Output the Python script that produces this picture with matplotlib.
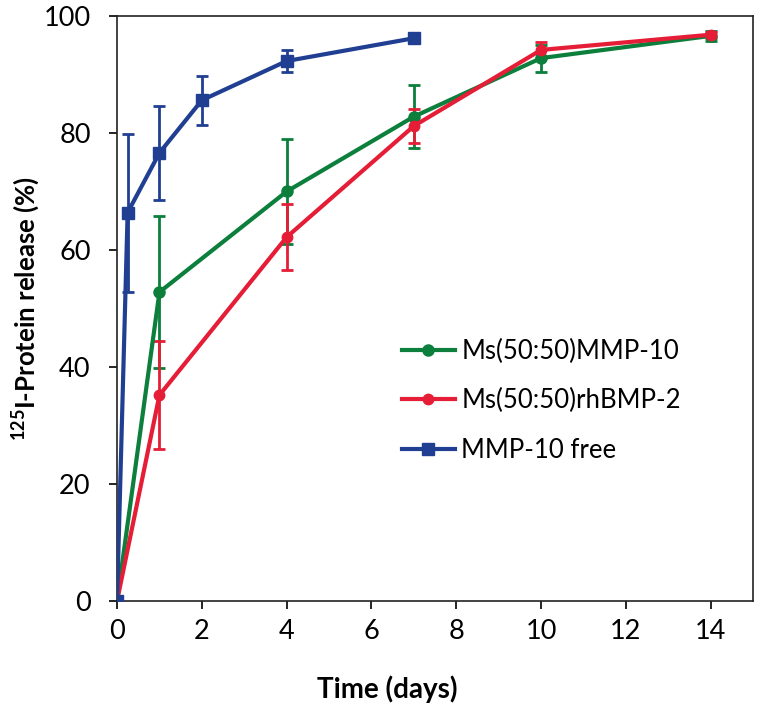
import matplotlib
matplotlib.use("Agg")
import matplotlib.pyplot as plt

plt.rcParams['font.family'] = ['Lato', 'DejaVu Sans']

# Data
t_green = [0, 1, 4, 7, 10, 14]
y_green = [0, 52.8, 70.0, 82.8, 92.8, 96.6]
e_green = [0, 13.0, 9.0, 5.4, 2.3, 0.8]

t_red = [0, 1, 4, 7, 10, 14]
y_red = [0, 35.2, 62.2, 81.2, 94.2, 96.8]
e_red = [0, 9.3, 5.6, 2.9, 1.4, 0.5]

t_blue = [0, 0.25, 1, 2, 4, 7]
y_blue = [0, 66.4, 76.6, 85.6, 92.3, 96.2]
e_blue = [0, 13.5, 8.0, 4.2, 1.8, 0.0]

labels = ["Ms(50:50)MMP-10", "Ms(50:50)rhBMP-2", "MMP-10 free"]
x_ticks = [0, 2, 4, 6, 8, 10, 12, 14]
y_ticks = [0, 20, 40, 60, 80, 100]

c_green = "#0b7f3b"
c_red = "#e51d36"
c_blue = "#213f92"

fig = plt.figure(figsize=(7.6, 7.1), dpi=100)
ax = fig.add_axes([0.154, 0.1535, 0.837, 0.824])

handles = []
for t, y, e, c, m, ms in [(t_green, y_green, e_green, c_green, 'o', 8),
                          (t_red, y_red, e_red, c_red, 'o', 7.5),
                          (t_blue, y_blue, e_blue, c_blue, 's', 8.5)]:
    ax.errorbar(t, y, yerr=e, fmt='none', ecolor=c, elinewidth=2, capsize=4.5, capthick=2, zorder=2)
    ln, = ax.plot(t, y, color=c, marker=m, markersize=ms, linewidth=3, zorder=3)
    handles.append(ln)

ax.set_xlim(0, 15)
ax.set_ylim(0, 100)
ax.set_xticks(x_ticks)
ax.set_yticks(y_ticks)
ax.tick_params(direction='out', length=6, width=1.2, labelsize=19.5)
ax.tick_params(axis='x', pad=7)
ax.tick_params(axis='y', pad=13)
for s in ax.spines.values():
    s.set_linewidth(1.2)
    s.set_color('#222222')

ax.set_xlabel("Time (days)", fontsize=20, fontweight='bold')
ax.set_ylabel(r"$\mathregular{^{125}}$I-Protein release (%)", fontsize=18.5, fontweight='bold')
ax.xaxis.set_label_coords(0.425, -0.128)
ax.yaxis.set_label_coords(-0.118, 0.5)

ax.legend(handles, labels, loc='upper left', bbox_to_anchor=(0.432, 0.466), frameon=False,
          fontsize=18.5, numpoints=1, handlelength=2.05, handletextpad=0.25, labelspacing=0.95,
          borderaxespad=0)

fig.savefig("out.png", dpi=100)
